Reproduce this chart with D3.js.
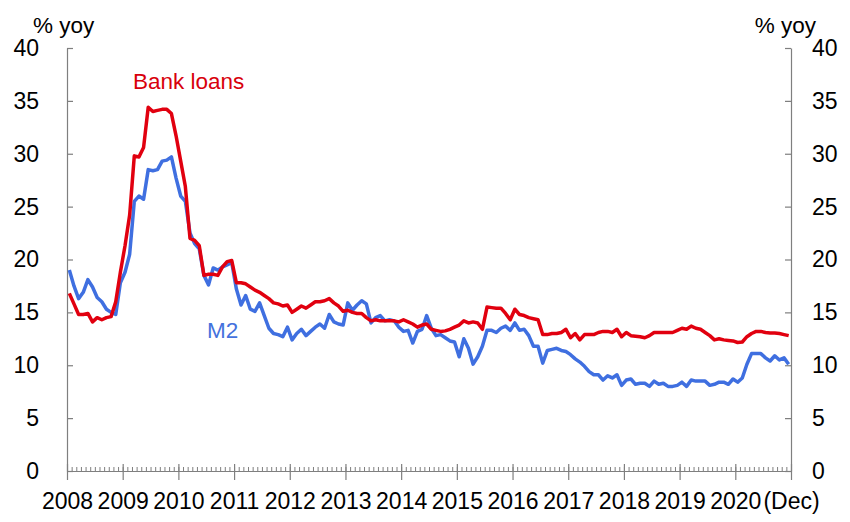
<!DOCTYPE html>
<html>
<head>
<meta charset="utf-8">
<script src="https://cdn.jsdelivr.net/npm/d3@7"></script>
<style>
  html, body { margin: 0; padding: 0; background: #fff; }
  svg { display: block; }
  text { font-family: "Liberation Sans", Arial, sans-serif; }
</style>
</head>
<body>
<svg id="chart" width="850" height="522"></svg>
<script>
// ---- Data (monthly, Jan 2008 - Dec 2020, % yoy) ----
const yearLabels = ["2008","2009","2010","2011","2012","2013","2014","2015","2016","2017","2018","2019","2020","(Dec)"];
const yTicks = [0, 5, 10, 15, 20, 25, 30, 35, 40];

const bankLoans = [
  // 2008
  16.8, 15.8, 14.8, 14.8, 14.9, 14.1, 14.5, 14.3, 14.5, 14.6, 16.0, 18.8,
  // 2009
  21.3, 24.2, 29.8, 29.7, 30.6, 34.4, 34.0, 34.1, 34.2, 34.2, 33.8, 31.7,
  // 2010
  29.3, 26.9, 22.0, 21.8, 21.3, 18.5, 18.6, 18.6, 18.5, 19.3, 19.8, 19.9,
  // 2011
  17.8, 17.8, 17.7, 17.4, 17.1, 16.9, 16.6, 16.3, 15.9, 15.8, 15.6, 15.7,
  // 2012
  15.0, 15.3, 15.6, 15.4, 15.7, 16.0, 16.0, 16.1, 16.3, 15.9, 15.6, 15.1,
  // 2013
  15.2, 15.0, 14.9, 14.9, 14.5, 14.2, 14.3, 14.2, 14.2, 14.2, 14.2, 14.1,
  // 2014
  14.3, 14.1, 13.9, 13.6, 13.8, 13.9, 13.4, 13.3, 13.2, 13.25, 13.4, 13.6,
  // 2015
  13.8, 14.2, 14.0, 14.1, 14.0, 13.4, 15.5, 15.45, 15.4, 15.4, 14.9, 14.3,
  // 2016
  15.3, 14.8, 14.7, 14.5, 14.4, 14.3, 12.9, 12.9, 13.0, 13.0, 13.1, 13.4,
  // 2017
  12.6, 13.0, 12.4, 12.9, 12.9, 12.9, 13.1, 13.2, 13.2, 13.1, 13.4, 12.7,
  // 2018
  13.1, 12.8, 12.75, 12.7, 12.6, 12.8, 13.1, 13.1, 13.1, 13.1, 13.1, 13.3,
  // 2019
  13.5, 13.4, 13.7, 13.5, 13.4, 13.1, 12.8, 12.4, 12.5, 12.4, 12.35, 12.3,
  // 2020
  12.15, 12.2, 12.7, 13.0, 13.2, 13.2, 13.1, 13.05, 13.05, 13.0, 12.9, 12.8
];

const m2 = [
  // 2008
  19.0, 17.5, 16.3, 16.9, 18.1, 17.4, 16.4, 16.0, 15.3, 15.0, 14.8, 17.8,
  // 2009
  18.8, 20.5, 25.5, 26.0, 25.7, 28.5, 28.4, 28.5, 29.3, 29.4, 29.7, 27.7,
  // 2010
  26.0, 25.5, 22.5, 21.5, 21.0, 18.5, 17.6, 19.2, 19.0, 19.3, 19.5, 19.7,
  // 2011
  17.2, 15.7, 16.6, 15.3, 15.1, 15.9, 14.7, 13.5, 13.0, 12.9, 12.7, 13.6,
  // 2012
  12.4, 13.0, 13.4, 12.8, 13.2, 13.6, 13.9, 13.5, 14.8, 14.1, 13.9, 13.8,
  // 2013
  15.9, 15.2, 15.7, 16.1, 15.8, 14.0, 14.5, 14.7, 14.2, 14.3, 14.2, 13.6,
  // 2014
  13.2, 13.3, 12.1, 13.2, 13.4, 14.7, 13.5, 12.8, 12.9, 12.6, 12.3, 12.2,
  // 2015
  10.8, 12.5, 11.6, 10.1, 10.8, 11.8, 13.3, 13.3, 13.1, 13.5, 13.7, 13.3,
  // 2016
  14.0, 13.3, 13.4, 12.8, 11.8, 11.8, 10.2, 11.4, 11.5, 11.6, 11.4, 11.3,
  // 2017
  11.0, 10.6, 10.3, 9.9, 9.4, 9.1, 9.1, 8.6, 9.0, 8.8, 9.1, 8.1,
  // 2018
  8.6, 8.7, 8.2, 8.3, 8.3, 8.0, 8.5, 8.2, 8.3, 8.0, 8.0, 8.1,
  // 2019
  8.4, 8.0, 8.6, 8.5, 8.5, 8.5, 8.1, 8.2, 8.4, 8.4, 8.2, 8.7,
  // 2020
  8.4, 8.8, 10.1, 11.1, 11.1, 11.1, 10.7, 10.4, 10.9, 10.5, 10.7, 10.1
];

// ---- Layout ----
const svg = d3.select("#chart");
const plotLeft = 67, plotRight = 791, plotTop = 48, plotBottom = 471;
const nMonths = bankLoans.length; // 156

const x = d3.scaleLinear().domain([0, nMonths]).range([plotLeft, plotRight]);
const y = d3.scaleLinear().domain([0, 40]).range([plotBottom, plotTop]);

const axisColor = "#7f7f7f";
const tickFont = 23;
const labelFont = 22.5;
const fontFam = '"Liberation Sans", Arial, sans-serif';

// Left y-axis
const yLeft = svg.append("g")
  .attr("transform", `translate(${plotLeft},0)`)
  .call(d3.axisLeft(y).tickValues(yTicks).tickSizeInner(-6).tickSizeOuter(0).tickPadding(28));
// Right y-axis
const yRight = svg.append("g")
  .attr("transform", `translate(${plotRight},0)`)
  .call(d3.axisRight(y).tickValues(yTicks).tickSizeInner(-6).tickSizeOuter(0).tickPadding(21));

[yLeft, yRight].forEach(g => {
  g.select(".domain").attr("stroke", axisColor).attr("stroke-width", 1.2);
  g.selectAll(".tick line").attr("stroke", axisColor).attr("stroke-width", 1.2);
  g.selectAll(".tick text").attr("fill", "#000").style("font-size", tickFont + "px")
    .style("font-family", fontFam);
});

// Bottom axis: minor monthly ticks (pointing up)
const monthTicks = d3.range(0, nMonths + 1);
const xMinor = svg.append("g")
  .attr("transform", `translate(0,${plotBottom})`)
  .call(d3.axisBottom(x).tickValues(monthTicks).tickSizeInner(-4).tickSizeOuter(0).tickFormat(""));
xMinor.select(".domain").attr("stroke", axisColor).attr("stroke-width", 1.2);
xMinor.selectAll(".tick line").attr("stroke", axisColor).attr("stroke-width", 1);

// Major yearly ticks crossing the axis, with labels
const yearTicks = d3.range(0, nMonths + 1, 12);
const xMajor = svg.append("g")
  .attr("transform", `translate(0,${plotBottom})`)
  .call(d3.axisBottom(x).tickValues(yearTicks).tickSizeInner(9).tickSizeOuter(0).tickPadding(13)
    .tickFormat((d, i) => yearLabels[i]));
xMajor.select(".domain").remove();
xMajor.selectAll(".tick line").attr("stroke", axisColor).attr("stroke-width", 1.2).attr("y1", -7);
xMajor.selectAll(".tick text").attr("fill", "#000").style("font-size", tickFont + "px")
  .style("font-family", fontFam);

// Unit labels
svg.append("text").attr("x", 33).attr("y", 33).attr("font-size", labelFont).attr("fill", "#000").text("% yoy");
svg.append("text").attr("x", 816).attr("y", 33).attr("text-anchor", "end").attr("font-size", labelFont).attr("fill", "#000").text("% yoy");

// Lines
const line = d3.line().x((d, i) => x(i + 0.5)).y(d => y(d));

const red = "#e1000f", blue = "#3f6fe0";

svg.append("path").datum(m2)
  .attr("fill", "none").attr("stroke", blue).attr("stroke-width", 3.5)
  .attr("stroke-linejoin", "round").attr("d", line);

svg.append("path").datum(bankLoans)
  .attr("fill", "none").attr("stroke", red).attr("stroke-width", 3.5)
  .attr("stroke-linejoin", "round").attr("d", line);

// Series labels
svg.append("text").attr("x", 133).attr("y", 89).attr("font-size", labelFont).attr("fill", "#d8000c").text("Bank loans");
svg.append("text").attr("x", 207).attr("y", 338).attr("font-size", labelFont).attr("fill", "#4472dd").text("M2");
</script>
</body>
</html>
